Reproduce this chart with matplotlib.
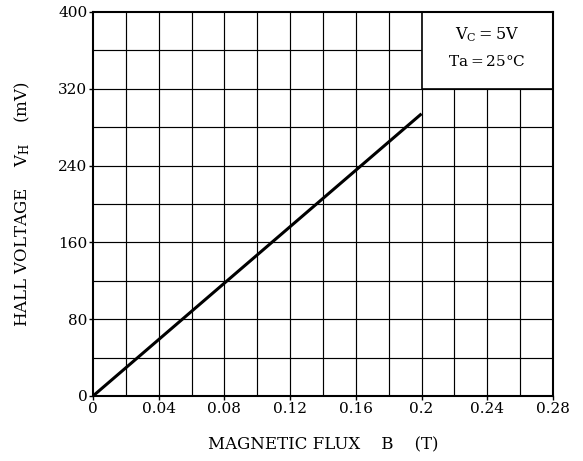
import matplotlib
matplotlib.use("Agg")
import matplotlib.pyplot as plt
from matplotlib.patches import Rectangle
import numpy as np

plt.rcParams['font.family'] = ['DejaVu Serif']
plt.rcParams['mathtext.fontset'] = 'dejavuserif'

flux_B = [0.0, 0.2]
hall_mV = [0.0, 294.0]
x_ticks = [0, 0.04, 0.08, 0.12, 0.16, 0.2, 0.24, 0.28]
x_ticklabels = ["0", "0.04", "0.08", "0.12", "0.16", "0.2", "0.24", "0.28"]
y_ticks = [0, 80, 160, 240, 320, 400]
y_ticklabels = ["0", "80", "160", "240", "320", "400"]

fig = plt.figure(figsize=(5.83, 4.61), dpi=100)
ax = fig.add_axes([0.1595, 0.141, 0.789, 0.833])
ax.set_xlim(0, 0.28)
ax.set_ylim(0, 400)

# grid
for xv in np.arange(0.02, 0.28, 0.02):
    ax.axvline(xv, color='black', lw=0.85, zorder=1)
for yv in np.arange(40, 400, 40):
    ax.axhline(yv, color='black', lw=0.85, zorder=1)

# condition box
ax.add_patch(Rectangle((0.2, 320), 0.08, 80, facecolor='white', edgecolor='black',
                       lw=1.2, zorder=2))
ax.text(0.24, 376, r"$\mathregular{V_C}$$\mathregular{=5V}$", ha='center', va='center',
        fontsize=11.5, zorder=3)
ax.text(0.24, 348, "Ta$\\mathregular{=}$25°C", ha='center', va='center', fontsize=11, zorder=3)

ax.plot(flux_B, hall_mV, color='black', lw=2.2, zorder=4, solid_capstyle='butt')

ax.set_xticks(x_ticks)
ax.set_xticklabels(x_ticklabels)
ax.set_yticks(y_ticks)
ax.set_yticklabels(y_ticklabels)
ax.tick_params(direction='out', length=3, width=1, labelsize=11, pad=1, colors='black')
for s in ax.spines.values():
    s.set_linewidth(1.5)
    s.set_zorder(5)

ax.set_xlabel("MAGNETIC FLUX    B    (T)", fontsize=12, labelpad=15)
ax.set_ylabel(r"HALL VOLTAGE    $\mathregular{V_H}$    (mV)", fontsize=12, labelpad=19)

fig.savefig("out.png", dpi=100)
